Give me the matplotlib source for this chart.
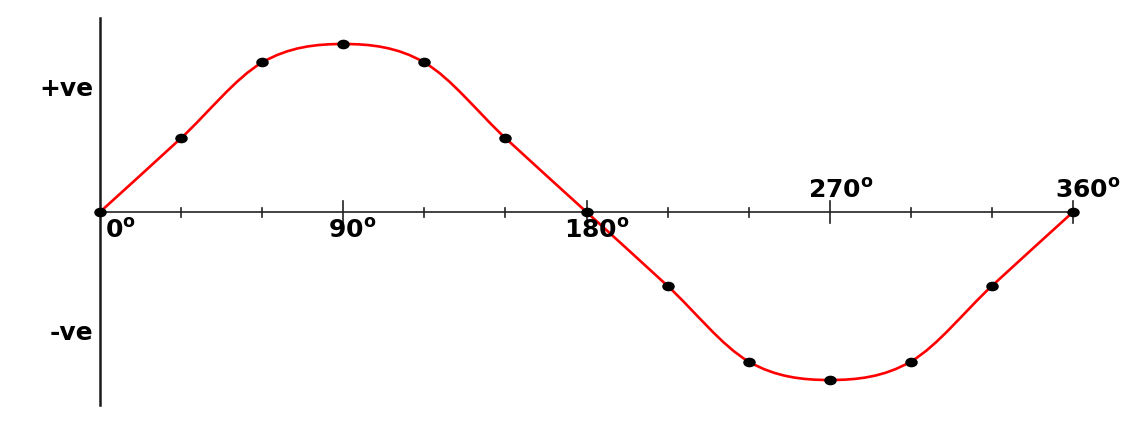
import matplotlib
matplotlib.use("Agg")
import matplotlib.pyplot as plt
import numpy as np
from matplotlib.path import Path
from matplotlib.patches import PathPatch

plt.rcParams['mathtext.fontset'] = 'custom'
plt.rcParams['mathtext.rm'] = 'DejaVu Sans:bold'
plt.rcParams['mathtext.bf'] = 'DejaVu Sans:bold'
plt.rcParams['mathtext.it'] = 'DejaVu Sans:bold'

# Data
angles = [0, 30, 60, 90, 120, 150, 180, 210, 240, 270, 300, 330, 360]
values = [0, 0.44, 0.89, 1, 0.89, 0.44, 0, -0.44, -0.89, -1, -0.89, -0.44, 0]
major_ticks = [90, 180, 270, 360]
minor_ticks = [30, 60, 120, 150, 210, 240, 300, 330]
tick_labels = ["0", "90", "180", "270", "360"]
y_labels = ["+ve", "-ve"]

W, H = 1143, 434
fig = plt.figure(figsize=(W / 100, H / 100), dpi=100)
ax = fig.add_axes([0, 0, 1, 1])
sx = 973 / 360.0
amp = 168.0
ax.set_xlim(-100 / sx, (W - 100) / sx)
ax.set_ylim(-222 / amp, (H - 222) / amp)
ax.axis('off')

def px(dx):
    return dx / sx

def py(dy):
    return dy / amp

# axes lines
ax.plot([0, 0], [py(212 - 18), py(212 - 405)], color='#1a1a1a', lw=1.8, zorder=1)
ax.plot([0, 360], [0, 0], color='#222222', lw=1.2, zorder=1)
for t in minor_ticks:
    ax.plot([t, t], [py(-4.5), py(4.5)], color='#222222', lw=1.2, zorder=1)
for t in major_ticks:
    ax.plot([t, t], [py(-11), py(11)], color='#222222', lw=1.2, zorder=1)

# smooth curve through the points (Catmull-Rom drawn as cubic Bezier path)
pts = np.column_stack([angles, values]).astype(float)
ext = np.vstack([2 * pts[0] - pts[1], pts, 2 * pts[-1] - pts[-2]])
verts = [tuple(pts[0])]
codes = [Path.MOVETO]
for i in range(1, len(ext) - 2):
    p0, p1, p2, p3 = ext[i - 1], ext[i], ext[i + 1], ext[i + 2]
    c1 = p1 + (p2 - p0) / 6.0
    c2 = p2 - (p3 - p1) / 6.0
    verts += [tuple(c1), tuple(c2), tuple(p2)]
    codes += [Path.CURVE4] * 3
patch = PathPatch(Path(verts, codes), facecolor='none', edgecolor='#ff0000', lw=1.9, zorder=2)
ax.add_patch(patch)

circ = Path.unit_circle()
ell = Path(circ.vertices * np.array([1.35, 1.0]), circ.codes)
ax.plot(angles, values, linestyle='none', marker=ell, color='black', ms=8, zorder=3)

fs = 18
def deg(s):
    return r"$\mathbf{" + s + r"}^{\mathbf{o}}$"

# label placement
ax.text(px(5), py(-238 + 212), deg(tick_labels[0]), fontsize=fs, ha='left', va='baseline')
ax.text(px(352 - 100), py(-238 + 212), deg(tick_labels[1]), fontsize=fs, ha='center', va='baseline')
ax.text(px(597 - 100), py(-238 + 212), deg(tick_labels[2]), fontsize=fs, ha='center', va='baseline')
ax.text(px(841 - 100), py(212 - 198), deg(tick_labels[3]), fontsize=fs, ha='center', va='baseline')
ax.text(px(1088 - 100), py(212 - 198), deg(tick_labels[4]), fontsize=fs, ha='center', va='baseline')

ax.text(px(-7), py(212 - 89), y_labels[0], fontsize=fs, fontweight='bold', family='DejaVu Sans',
        ha='right', va='center')
ax.text(px(-7), py(212 - 333), y_labels[1], fontsize=fs, fontweight='bold', family='DejaVu Sans',
        ha='right', va='center')

fig.savefig("out.png", dpi=100)
